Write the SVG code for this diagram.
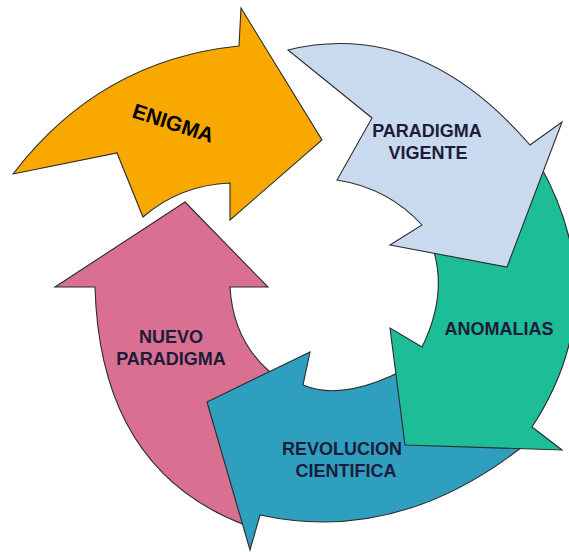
<svg xmlns="http://www.w3.org/2000/svg" width="569" height="552" viewBox="0 0 569 552">
<style>
.a{stroke:#2b2b2b;stroke-width:1.1;stroke-linejoin:miter}
.t{font-family:"Liberation Sans",Arial,sans-serif;font-weight:bold;font-size:18px;fill:#1c1c3a;text-anchor:middle}
</style>
<rect width="569" height="552" fill="#ffffff"/>
<g id="nuevo-paradigma">
<path class="a" fill="#D96F91" d="M185,202 L268,287 L230,287 Q233,340 270,372 L290,390 L245,525 Q100,470 95,287 L55,287 Z"/>
<text class="t" x="171" y="343">NUEVO</text>
<text class="t" x="171" y="365">PARADIGMA</text>
</g>
<g id="revolucion-cientifica">
<path class="a" fill="#2E9FBF" d="M207,402 L310,352 L303,385 Q350,405 430,355 L490,400 L532,439 Q402,546 260,515 L250,550 Z"/>
<text class="t" x="342" y="455">REVOLUCION</text>
<text class="t" x="346" y="477">CIENTIFICA</text>
</g>
<g id="anomalias">
<path class="a" fill="#1DBD98" d="M540,165 Q615,300 532,427 L562,450 L405,445 L390,328 L422,347 Q450,290 430,240 L490,225 Z"/>
<text class="t" x="499" y="335">ANOMALIAS</text>
</g>
<g id="paradigma-vigente">
<path class="a" fill="#C9D9EE" d="M288,50 Q420,18 530,145 L562,122 L507,267 L390,245 L422,225 Q388,188 337,180 L372,118 Z"/>
<text class="t" x="427" y="137">PARADIGMA</text>
<text class="t" x="428" y="159">VIGENTE</text>
</g>
<g id="enigma">
<path class="a" fill="#F9A800" d="M13,174 Q100,60 239,46 L241,8 L322,140 L230,220 L230,183 Q180,185 143,217 L117,153 Z"/>
<text class="t" x="0" y="0" style="fill:#000;font-size:21px" transform="translate(171,130) rotate(18)">ENIGMA</text>
</g>
<g id="connectors"></g>
</svg>
